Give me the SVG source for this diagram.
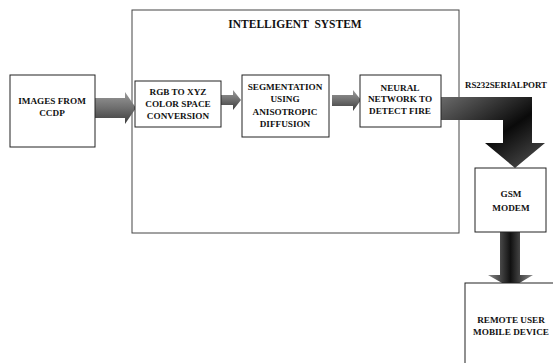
<svg xmlns="http://www.w3.org/2000/svg" width="553" height="363" viewBox="0 0 553 363">
<defs>
<linearGradient id="gh" x1="0" y1="0" x2="0" y2="1">
<stop offset="0" stop-color="#9a9a9a"/>
<stop offset="0.5" stop-color="#6e6e6e"/>
<stop offset="1" stop-color="#3c3c3c"/>
</linearGradient>
<linearGradient id="gbig" x1="0" y1="0" x2="1" y2="1">
<stop offset="0" stop-color="#6a6a6a"/>
<stop offset="0.55" stop-color="#0a0a0a"/>
<stop offset="1" stop-color="#555"/>
</linearGradient>
<linearGradient id="gv" x1="0" y1="0" x2="1" y2="0">
<stop offset="0" stop-color="#8a8a8a"/>
<stop offset="0.5" stop-color="#111"/>
<stop offset="1" stop-color="#8a8a8a"/>
</linearGradient>
</defs>
<style>
.box{fill:#fff;stroke:#222;stroke-width:1}
.t{font-family:"Liberation Serif","Times New Roman",serif;font-weight:bold;font-size:9.2px;fill:#111;text-anchor:middle}
.title{font-size:11.5px}
</style>
<rect width="553" height="363" fill="#fff"/>
<g id="intelligent-system">
<rect class="box" x="132" y="10" width="327" height="223" style="stroke:#444"/>
<text class="t title" x="295" y="28" xml:space="preserve">INTELLIGENT  SYSTEM</text>
</g>
<g id="connectors">
<path d="M95,98 L125,98 L125,92 L136,108 L125,124 L125,118 L95,118 Z" fill="url(#gh)"/>
<path d="M221,95 L233,95 L233,90 L241,100 L233,110 L233,105 L221,105 Z" fill="url(#gh)"/>
<path d="M332,95 L353,95 L353,90 L361,100 L353,111 L353,106 L332,106 Z" fill="url(#gh)"/>
<path d="M441,97 L532,97 L532,143 L545,143 L515,168 L485,143 L503,143 L503,120 L441,120 Z" fill="url(#gbig)"/>
<path d="M500,232 L520,232 L520,275 L533,275 L511,288 L488,275 L500,275 Z" fill="url(#gv)"/>
<text class="t" x="465" y="88" style="text-anchor:start" textLength="82" lengthAdjust="spacingAndGlyphs">RS232SERIALPORT</text>
</g>
<g id="images-from-ccdp">
<rect class="box" x="10" y="75" width="85" height="72"/>
<text class="t" x="52" y="104">IMAGES FROM</text>
<text class="t" x="52" y="116">CCDP</text>
</g>
<g id="rgb-to-xyz">
<rect class="box" x="135" y="81" width="86" height="46"/>
<text class="t" x="178" y="95">RGB TO XYZ</text>
<text class="t" x="178" y="107">COLOR SPACE</text>
<text class="t" x="178" y="119">CONVERSION</text>
</g>
<g id="segmentation">
<rect class="box" x="242" y="75" width="87" height="62"/>
<text class="t" x="285" y="90">SEGMENTATION</text>
<text class="t" x="285" y="102">USING</text>
<text class="t" x="285" y="115">ANISOTROPIC</text>
<text class="t" x="285" y="127">DIFFUSION</text>
</g>
<g id="neural-network">
<rect class="box" x="360" y="75" width="81" height="52"/>
<text class="t" x="400" y="91">NEURAL</text>
<text class="t" x="400" y="102">NETWORK TO</text>
<text class="t" x="400" y="114">DETECT FIRE</text>
</g>
<g id="gsm-modem">
<rect class="box" x="475" y="168" width="71" height="64"/>
<text class="t" x="511" y="197">GSM</text>
<text class="t" x="511" y="211">MODEM</text>
</g>
<g id="remote-user">
<rect class="box" x="465" y="283" width="95" height="90"/>
<text class="t" x="511" y="323">REMOTE USER</text>
<text class="t" x="511" y="335">MOBILE DEVICE</text>
</g>
</svg>
